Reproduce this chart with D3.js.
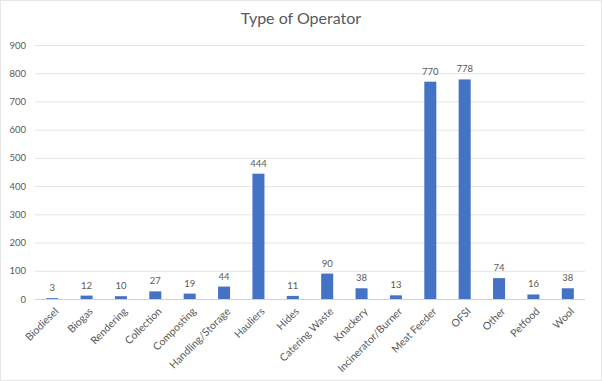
<!DOCTYPE html>
<html><head><meta charset="utf-8">
<script src="https://cdn.jsdelivr.net/npm/d3@7"></script>
<style>body{margin:0;background:#fff}svg{display:block}</style>
</head><body>
<script>
const categories = ["Biodiesel","Biogas","Rendering","Collection","Composting","Handling/Storage","Hauliers","Hides","Catering Waste","Knackery","Incinerator/Burner","Meat Feeder","OFSI","Other","Petfood","Wool"];
const values = [3,12,10,27,19,44,444,11,90,38,13,770,778,74,16,38];
const yTicks = [0,100,200,300,400,500,600,700,800,900];
const title = "Type of Operator";

const W=602,H=381;
const svg=d3.select("body").append("svg").attr("width",W).attr("height",H);
const font="Lato, 'Open Sans', sans-serif";
svg.append("rect").attr("x",0.5).attr("y",0.5).attr("width",W-1).attr("height",H-1).attr("fill","#fff").attr("stroke","#e6e6e6");
const m={l:35,r:17,t:45,b:82};
const x=d3.scaleBand().domain(categories).range([m.l,W-m.r]).paddingInner(0.65).paddingOuter(0.325);
const y=d3.scaleLinear().domain([0,900]).range([H-m.b,m.t]);

svg.append("text").attr("x",301).attr("y",23.5).attr("text-anchor","middle").attr("font-family",font).attr("font-size",16).attr("fill","#595959").text(title);

const ya=svg.append("g").attr("transform",`translate(${m.l},0)`).call(d3.axisLeft(y).tickValues(yTicks).tickSize(-(W-m.l-m.r)).tickPadding(9));
ya.select(".domain").remove();
ya.selectAll(".tick line").attr("stroke","#e3e3e3");
ya.selectAll(".tick text").attr("font-family",font).attr("font-size",9.5).attr("fill","#595959");
ya.selectAll(".tick").filter(d=>d===0).select("line").attr("stroke","#d0d0d0");

svg.selectAll("rect.bar").data(values).join("rect").attr("class","bar")
 .attr("x",(d,i)=>x(categories[i])).attr("width",x.bandwidth())
 .attr("y",d=>y(d)).attr("height",d=>y(0)-y(d)).attr("fill","#4472C4");

svg.selectAll("text.lbl").data(values).join("text").attr("class","lbl")
 .attr("x",(d,i)=>x(categories[i])+x.bandwidth()/2).attr("y",d=>y(d)-7)
 .attr("text-anchor","middle").attr("font-family",font).attr("font-size",9.5).attr("fill","#595959").text(d=>d);

const xa=svg.append("g").attr("transform",`translate(0,${y(0)})`).call(d3.axisBottom(x).tickSize(0).tickPadding(0));
xa.select(".domain").remove();
xa.selectAll(".tick text").attr("font-family",font).attr("font-size",10.5).attr("fill","#595959")
 .attr("text-anchor","end").attr("dy",0).attr("transform","translate(7,13) rotate(-45)");
</script>
</body></html>
